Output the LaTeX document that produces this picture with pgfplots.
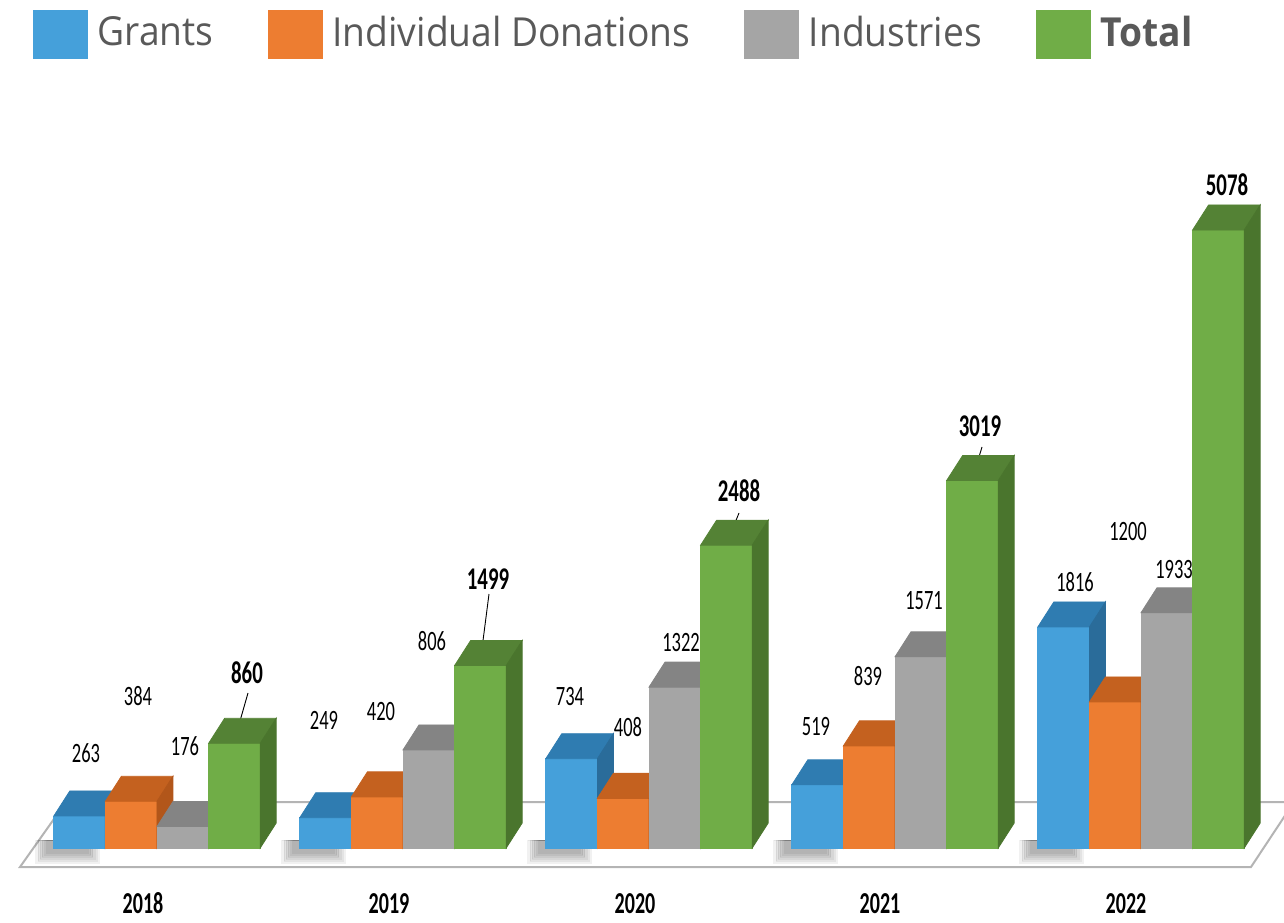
\documentclass[border=0pt]{standalone}
\usepackage{pgfplots}
\pgfplotsset{compat=1.18}
\usepackage{pgfplotstable}
\usepackage{fontspec}
\setmainfont{Open Sans}[FakeStretch=0.93]
\newfontfamily\lab{Carlito}[FakeStretch=0.66]

\definecolor{cBf}{HTML}{45A0DA}\definecolor{cBt}{HTML}{2F7CB1}\definecolor{cBs}{HTML}{2A6C9A}
\definecolor{cOf}{HTML}{ED7D31}\definecolor{cOt}{HTML}{C4611F}\definecolor{cOs}{HTML}{B2561A}
\definecolor{cGf}{HTML}{A5A5A5}\definecolor{cGt}{HTML}{848484}\definecolor{cGs}{HTML}{7A7A7A}
\definecolor{cTf}{HTML}{70AD47}\definecolor{cTt}{HTML}{548235}\definecolor{cTs}{HTML}{4A752D}
\definecolor{legtext}{HTML}{595959}
\definecolor{floorline}{HTML}{B4B4B4}

\pgfplotstableread{
idx grants indiv industries total
0 263 384 176 860
1 249 420 806 1499
2 734 408 1322 2488
3 519 839 1571 3019
4 1816 1200 1933 5078
}\data

\pgfdeclareplotmark{nothing}{}
\def\bw{25.8}\def\ddx{8}\def\ddy{12.5}\def\yu{0.06085}

\pgfplotsset{
 bar3d/.style n args={5}{
  scatter, only marks, mark=nothing, forget plot,
  visualization depends on={rawy \as \barval},
  scatter/@pre marker code/.code={%
    \pgfmathsetmacro{\hh}{\barval*\yu}%
    \pgfmathsetmacro{\xl}{#4-\bw/2}%
    \pgfmathsetmacro{\xr}{#4+\bw/2}%
    \pgfmathsetmacro{\xrd}{\xr+\ddx}%
    \pgfmathsetmacro{\xld}{\xl+\ddx}%
    \pgfmathsetmacro{\hd}{\ddy-\hh}%
    #5
    \fill[#1] (\xl pt,-\hh pt) rectangle (\xr pt,0pt);
    \fill[#2] (\xl pt,0pt) -- (\xr pt,0pt) -- (\xrd pt,\ddy pt) -- (\xld pt,\ddy pt) -- cycle;
    \fill[#3] (\xr pt,0pt) -- (\xrd pt,\ddy pt) -- (\xrd pt,\hd pt) -- (\xr pt,-\hh pt) -- cycle;
  },
  scatter/@post marker code/.code={},
 }
}
\newcommand{\barshadow}{%
  \foreach \r in {0,1,2,3,4,5}{%
    \pgfmathsetmacro{\sa}{\xl-9+\r*1.1}%
    \pgfmathsetmacro{\sb}{\xr-3-\r*1.1}%
    \pgfmathsetmacro{\sc}{-\hh-7.5+\r*1.0}%
    \pgfmathsetmacro{\sd}{-\hh+4}%
    \fill[black, opacity=0.055] (\sa pt,\sc pt) rectangle (\sb pt,\sd pt);
  }%
}

\begin{document}
\begin{tikzpicture}
\begin{axis}[
  x=123pt, y=0.06085pt,
  xmin=-0.6382, xmax=4.5813, ymin=-608.05, ymax=6967.95,
  hide axis, clip=false,
  legend columns=4,
  legend style={at={(rel axis cs:0,1)}, anchor=north west, xshift=16.5pt, yshift=-5pt,
    draw=none, fill=none, inner sep=0pt, outer sep=0pt,
    font=\fontsize{20}{22}\selectfont, text=legtext,
    nodes={inner sep=0pt},
    /tikz/every odd column/.style={column sep=5pt},
    /tikz/every even column/.style={column sep=27pt}},
]
% floor
\addplot[fill=white, draw=floorline, line width=1pt, forget plot] coordinates {
 (-0.5569,-156.1) (4.4472,-156.1) (4.622,378.0) (-0.3699,378.0)} -- cycle;

\addlegendimage{legend image code/.code={\fill[cBf] (0pt,-13pt) rectangle (27pt,11pt);}}
\addlegendentry{Grants}
\addlegendimage{legend image code/.code={\fill[cOf] (0pt,-13pt) rectangle (27pt,11pt);}}
\addlegendentry{Individual Donations}
\addlegendimage{legend image code/.code={\fill[cGf] (0pt,-13pt) rectangle (27pt,11pt);}}
\addlegendentry{Industries}
\addlegendimage{legend image code/.code={\fill[cTf] (0pt,-13pt) rectangle (27pt,11pt);}}
\addlegendentry{\textbf{Total}}

\addplot[bar3d={cBf}{cBt}{cBs}{-38.7}{\barshadow}] table[x=idx,y=grants]{\data};
\addplot[bar3d={cOf}{cOt}{cOs}{-12.9}{}] table[x=idx,y=indiv]{\data};
\addplot[bar3d={cGf}{cGt}{cGs}{12.9}{}] table[x=idx,y=industries]{\data};
\addplot[bar3d={cTf}{cTt}{cTs}{38.7}{}] table[x=idx,y=total]{\data};

% value labels
\begin{scope}[every node/.style={font=\lab\fontsize{14}{16}\selectfont, text=black, inner sep=0pt}]
\node at (axis cs:-0.2886,780.6) {263};
\node at (axis cs:-0.0772,1249) {384};
\node at (axis cs:0.1138,838) {176};
\node at (axis cs:0.6789,1051.8) {249};
\node at (axis cs:0.9106,1117.5) {420};
\node at (axis cs:1.1179,1700.9) {806};
\node at (axis cs:1.6789,1240.8) {734};
\node at (axis cs:1.9146,994.2) {408};
\node at (axis cs:2.1301,1684.5) {1322};
\node at (axis cs:2.6789,994.2) {519};
\node at (axis cs:2.8902,1413.3) {839};
\node at (axis cs:3.1179,2029.6) {1571};
\node at (axis cs:3.7317,2185.7) {1816};
\node at (axis cs:3.9472,2596.5) {1200};
\node at (axis cs:4.1341,2284.3) {1933};
\end{scope}
\begin{scope}[every node/.style={font=\lab\bfseries\fontsize{15.8}{18}\selectfont, text=black, inner sep=0pt}]
\node at (axis cs:0.3659,1438) {860};
\node at (axis cs:1.3455,2210.4) {1499};
\node at (axis cs:2.3659,2933.4) {2488};
\node at (axis cs:3.3455,3467.5) {3019};
\node at (axis cs:4.3496,5447.8) {5078};
\end{scope}
\begin{scope}[every node/.style={font=\lab\bfseries\fontsize{15.2}{18}\selectfont, text=black, inner sep=0pt}]
\node at (axis cs:-0.0569,-455) {2018};
\node at (axis cs:0.9431,-455) {2019};
\node at (axis cs:1.9431,-455) {2020};
\node at (axis cs:2.9390,-455) {2021};
\node at (axis cs:3.9390,-455) {2022};
\end{scope}
\draw[black, line width=0.45pt] (axis cs:0.3699,1273.6) -- (axis cs:0.3130,871.0);
\draw[black, line width=0.45pt] (axis cs:1.3496,2087.1) -- (axis cs:1.3130,1511.9);
\draw[black, line width=0.45pt] (axis cs:2.3659,2752.7) -- (axis cs:2.3130,2489.7);
\draw[black, line width=0.45pt] (axis cs:3.3537,3295.0) -- (axis cs:3.3130,3023.8);
\draw[black, line width=0.45pt] (axis cs:4.3455,5275.3) -- (axis cs:4.3089,5078.1);
\end{axis}
\pgfresetboundingbox
\path (current axis.south west) rectangle (current axis.north east);
\end{tikzpicture}
\end{document}
